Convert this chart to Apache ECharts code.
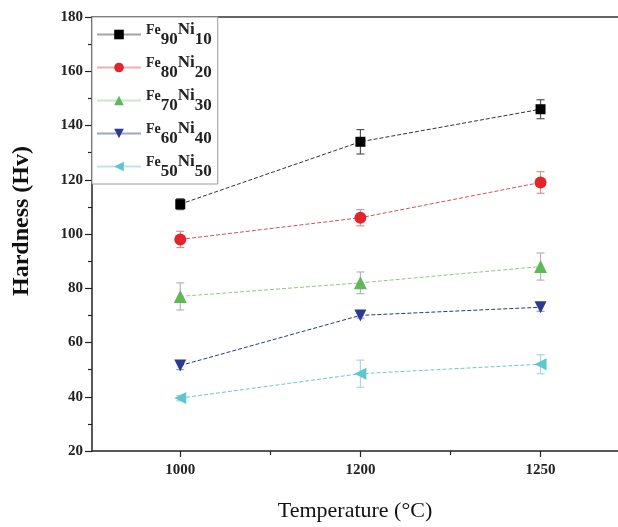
<!DOCTYPE html>
<html><head><meta charset="utf-8">
<script src="https://cdn.jsdelivr.net/npm/echarts@6/dist/echarts.min.js"></script>
<style>html,body{margin:0;padding:0;background:#fff}#c{width:618px;height:527px}</style>
</head><body><div id="c"></div>
<script>
const temperatures = ['1000', '1200', '1250'];
const seriesNames = ['Fe90Ni10', 'Fe80Ni20', 'Fe70Ni30', 'Fe60Ni40', 'Fe50Ni50'];
const fe90ni10 = [111, 134, 146];
const fe90ni10Err = [2, 4.5, 3.5];
const fe80ni20 = [98, 106, 119];
const fe80ni20Err = [3, 3, 4];
const fe70ni30 = [77, 82, 88];
const fe70ni30Err = [5, 4, 5];
const fe60ni40 = [51.5, 70, 73];
const fe60ni40Err = [1.5, 1, 1.5];
const fe50ni50 = [39.5, 48.5, 52];
const fe50ni50Err = [1, 5, 3.5];
const yTicks = [20, 40, 60, 80, 100, 120, 140, 160, 180];

const values = [fe90ni10, fe80ni20, fe70ni30, fe60ni40, fe50ni50];
const errors = [fe90ni10Err, fe80ni20Err, fe70ni30Err, fe60ni40Err, fe50ni50Err];
const colors = ['#000000', '#e3242b', '#5fb957', '#2b3a92', '#5ec6cf'];
const lineColors = ['#333333', '#c9545a', '#8cc980', '#2b3a72', '#6fc5cc'];
const errColors = ['#555555', '#c99a9a', '#b5b5b5', '#9aa0c0', '#a8d8dc'];
const symbols = ['rect', 'circle', 'triangle', 'triangle', 'triangle'];
const symRot = [0, 0, 0, 180, 90];
const symSizes = [10, 12, 13, 12, 12];
const serif = '"Liberation Serif", "DejaVu Serif", serif';

const series = [];
values.forEach((vals, i) => {
  series.push({
    type: 'custom',
    silent: true,
    z: 1,
    data: vals.map((v, j) => [j + 1, v - errors[i][j], v + errors[i][j]]),
    renderItem: function (params, api) {
      const x = api.coord([api.value(0), api.value(1)])[0];
      const lo = api.coord([api.value(0), api.value(1)])[1];
      const hi = api.coord([api.value(0), api.value(2)])[1];
      const st = { stroke: errColors[i], lineWidth: 1.2 };
      return { type: 'group', children: [
        { type: 'line', shape: { x1: x, y1: lo, x2: x, y2: hi }, style: st },
        { type: 'line', shape: { x1: x - 4, y1: lo, x2: x + 4, y2: lo }, style: st },
        { type: 'line', shape: { x1: x - 4, y1: hi, x2: x + 4, y2: hi }, style: st }
      ]};
    }
  });
  series.push({
    name: seriesNames[i],
    type: 'line',
    z: 3,
    data: vals.map((v, j) => [j + 1, v]),
    symbol: symbols[i],
    symbolRotate: symRot[i],
    symbolSize: symSizes[i],
    itemStyle: { color: colors[i] },
    lineStyle: { color: lineColors[i], width: 1, type: [4, 2] }
  });
});

const chart = echarts.init(document.getElementById('c'));
chart.setOption({
  animation: false,
  color: colors,
  grid: { left: 92, top: 17, right: 0, bottom: 75 },
  legend: {
    data: seriesNames,
    orient: 'vertical',
    left: 92, top: 17,
    padding: [4, 6, 4, 4],
    itemGap: 6,
    itemWidth: 44, itemHeight: 12,
    borderColor: '#9a9a9a', borderWidth: 1,
    backgroundColor: '#fff',
    lineStyle: { type: 'solid', width: 2, opacity: 0.45 },
    formatter: function (name) {
      const m = name.match(/^Fe(\d+)Ni(\d+)$/);
      return '{a|Fe}{s|' + m[1] + '}{b|Ni}{s|' + m[2] + '}';
    },
    textStyle: {
      fontFamily: serif, color: '#222',
      rich: {
        a: { fontFamily: serif, fontSize: 14, color: '#222', fontWeight: 'bold', verticalAlign: 'top', lineHeight: 27, padding: [2, 0, 0, 0] },
        b: { fontFamily: serif, fontSize: 17, color: '#222', fontWeight: 'bold', verticalAlign: 'top', lineHeight: 27, padding: [0, 0, 0, 0] },
        s: { fontFamily: serif, fontSize: 17, color: '#222', fontWeight: 'bold', verticalAlign: 'bottom', lineHeight: 27, padding: [8, 0, 0, 0] }
      }
    }
  },
  xAxis: [{
    type: 'value', position: 'bottom',
    min: 0.51, max: 3.43,
    name: 'Temperature (°C)', nameLocation: 'middle', nameGap: 49,
    nameTextStyle: { fontFamily: serif, fontSize: 22, color: '#111' },
    axisLine: { lineStyle: { color: '#222', width: 1.5 } },
    axisTick: { customValues: [1, 2, 3], length: 6, lineStyle: { color: '#222', width: 1.2 } },
    axisLabel: {
      customValues: [1, 2, 3], margin: 12,
      fontFamily: serif, fontSize: 15, fontWeight: 'bold', color: '#222',
      formatter: v => temperatures[Math.round(v) - 1]
    },
    splitLine: { show: false }
  }, {
    type: 'value', position: 'bottom',
    min: 0.51, max: 3.43,
    axisLine: { show: false },
    axisTick: { customValues: [1.5, 2.5], length: 4, lineStyle: { color: '#222', width: 1.2 } },
    axisLabel: { show: false },
    splitLine: { show: false }
  }, {
    type: 'value', position: 'top',
    min: 0.51, max: 3.43,
    axisLine: { show: true, lineStyle: { color: '#333', width: 1.5 } },
    axisTick: { show: false }, axisLabel: { show: false }, splitLine: { show: false }
  }],
  yAxis: {
    type: 'value', min: yTicks[0], max: yTicks[yTicks.length - 1], interval: 20,
    name: 'Hardness (Hv)', nameLocation: 'middle', nameGap: 58,
    nameTextStyle: { fontFamily: serif, fontSize: 24, fontWeight: 'bold', color: '#111', padding: [0, 0, 0, 26] },
    axisLine: { show: true, lineStyle: { color: '#222', width: 1.5 } },
    axisTick: { show: true, length: 7, lineStyle: { color: '#222', width: 1.2 } },
    minorTick: { show: true, splitNumber: 2, length: 4, lineStyle: { color: '#222', width: 1.2 } },
    axisLabel: { margin: 9, fontFamily: serif, fontSize: 15, fontWeight: 'bold', color: '#222' },
    splitLine: { show: false }
  },
  series: series
});
</script></body></html>
